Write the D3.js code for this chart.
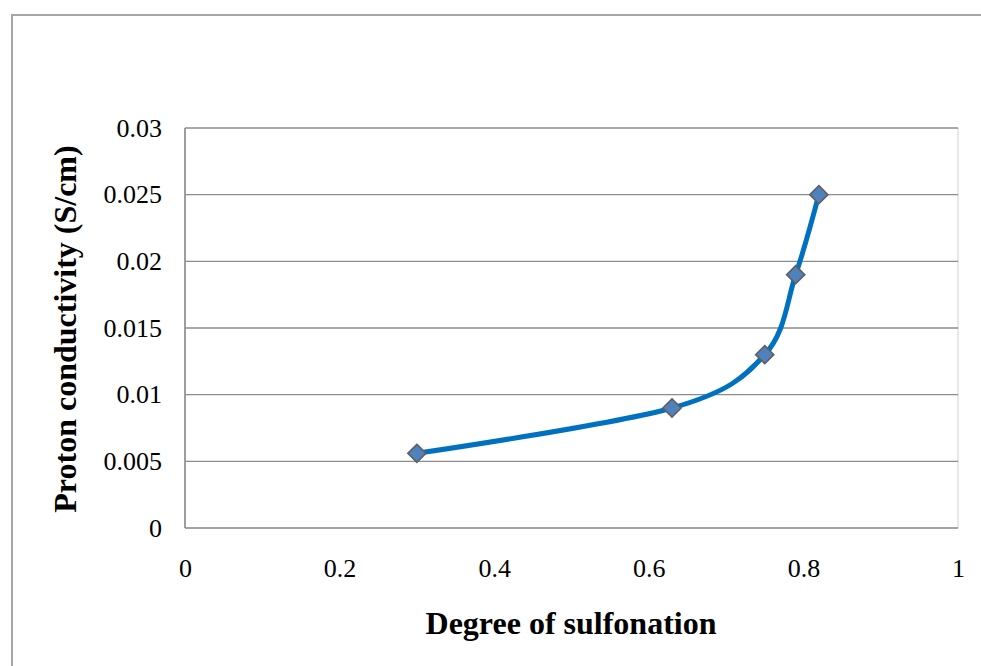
<!DOCTYPE html>
<html>
<head>
<meta charset="utf-8">
<script src="https://cdn.jsdelivr.net/npm/d3@7"></script>
<style>
  html, body { margin: 0; padding: 0; background: #fff; }
  svg { display: block; }
</style>
</head>
<body>
<svg id="chart" width="981" height="666"></svg>
<script>
// Proton conductivity versus degree of sulfonation
const sulfonation = [0.30, 0.63, 0.75, 0.79, 0.82];
const conductivity = [0.0056, 0.0090, 0.0130, 0.0190, 0.0250];
const xTicks = [0, 0.2, 0.4, 0.6, 0.8, 1];
const yTicks = [0, 0.005, 0.01, 0.015, 0.02, 0.025, 0.03];

const svg = d3.select("#chart");
const font = "'Liberation Serif', 'Times New Roman', serif";

// Outer chart frame
svg.append("rect")
  .attr("x", 12).attr("y", 15)
  .attr("width", 1000).attr("height", 700)
  .attr("fill", "#fff")
  .attr("stroke", "#a6a6a6").attr("stroke-width", 2);

const plot = { left: 185, right: 958, top: 128, bottom: 528 };

const x = d3.scaleLinear().domain([0, 1]).range([plot.left, plot.right]);
const y = d3.scaleLinear().domain([0, 0.03]).range([plot.bottom, plot.top]);

// Right edge of plot area
svg.append("line")
  .attr("x1", plot.right).attr("x2", plot.right)
  .attr("y1", plot.top).attr("y2", plot.bottom)
  .attr("stroke", "#d9d9d9").attr("stroke-width", 1.2);

// Horizontal gridlines
svg.append("g")
  .selectAll("line")
  .data(yTicks.filter(d => d > 0))
  .join("line")
  .attr("x1", plot.left).attr("x2", plot.right)
  .attr("y1", d => y(d)).attr("y2", d => y(d))
  .attr("stroke", "#8c8c8c").attr("stroke-width", 1.3);

// Axis lines
svg.append("line")
  .attr("x1", plot.left).attr("x2", plot.right)
  .attr("y1", plot.bottom).attr("y2", plot.bottom)
  .attr("stroke", "#868686").attr("stroke-width", 1.6);
svg.append("line")
  .attr("x1", plot.left).attr("x2", plot.left)
  .attr("y1", plot.top).attr("y2", plot.bottom)
  .attr("stroke", "#868686").attr("stroke-width", 1.6);

// Y axis tick labels
const yAxis = d3.axisLeft(y).tickValues(yTicks).tickSize(0).tickPadding(23)
  .tickFormat(d => String(+d.toFixed(3)));
const gy = svg.append("g").attr("transform", `translate(${plot.left},0)`).call(yAxis);
gy.select(".domain").remove();
gy.selectAll("text")
  .attr("font-family", font).attr("font-size", 26).attr("fill", "#000");

// X axis tick labels
const xAxis = d3.axisBottom(x).tickValues(xTicks).tickSize(0).tickPadding(31)
  .tickFormat(d => String(+d.toFixed(1)));
const gx = svg.append("g").attr("transform", `translate(0,${plot.bottom})`).call(xAxis);
gx.select(".domain").remove();
gx.selectAll("text")
  .attr("font-family", font).attr("font-size", 26).attr("fill", "#000");

// Axis titles
svg.append("text")
  .attr("x", 571).attr("y", 634)
  .attr("text-anchor", "middle")
  .attr("font-family", font).attr("font-size", 32).attr("font-weight", "bold")
  .text("Degree of sulfonation");

svg.append("text")
  .attr("transform", `translate(76,${(plot.top + plot.bottom) / 2 + 1}) rotate(-90)`)
  .attr("text-anchor", "middle")
  .attr("font-family", font).attr("font-size", 32).attr("font-weight", "bold")
  .text("Proton conductivity (S/cm)");

// Smoothed series line
const points = sulfonation.map((s, i) => [s, conductivity[i]]);
const line = d3.line()
  .x(d => x(d[0])).y(d => y(d[1]))
  .curve(d3.curveCardinal.tension(0));
svg.append("path")
  .datum(points)
  .attr("d", line)
  .attr("fill", "none")
  .attr("stroke", "#0070c0").attr("stroke-width", 5)
  .attr("stroke-linecap", "round");

// Diamond markers
const diamond = d3.symbol().type(d3.symbolDiamond2).size(210);
svg.append("g")
  .selectAll("path")
  .data(points)
  .join("path")
  .attr("transform", d => `translate(${x(d[0])},${y(d[1])})`)
  .attr("d", diamond)
  .attr("fill", "#4f81bd")
  .attr("stroke", "#5f5f5f").attr("stroke-width", 1.6);
</script>
</body>
</html>
